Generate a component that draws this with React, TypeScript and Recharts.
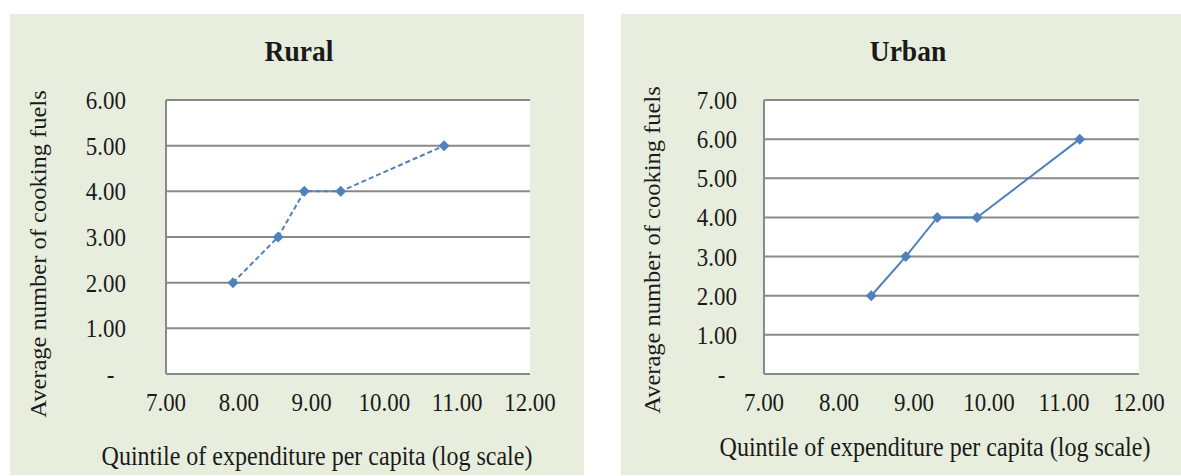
import React from "react";
import { CartesianGrid, Line, LineChart, XAxis, YAxis } from "recharts";

// log expenditure per capita by quintile and average number of cooking fuels
const ruralX = [7.92, 8.54, 8.9, 9.4, 10.82];
const ruralY = [2, 3, 4, 4, 5];
const urbanX = [8.43, 8.89, 9.31, 9.84, 11.21];
const urbanY = [2, 3, 4, 4, 6];

const xTicks = [7, 8, 9, 10, 11, 12];
const ruralTicks = [0, 1, 2, 3, 4, 5, 6];
const urbanTicks = [0, 1, 2, 3, 4, 5, 6, 7];

const FONT = '"Liberation Serif", "Times New Roman", serif';
const BLUE = "#4F81BD";
const GRID = "#898989";
const TEXT = "#1a1a1a";
const PANEL_BG = "#e8eedd";
// the source picture is a bit narrower than it is tall, so text gets squeezed sideways
const SQUEEZE = 0.9;

function Diamond(props: any) {
  const { cx, cy } = props;
  if (cx == null || cy == null) return null;
  const r = 5.5;
  return (
    <path
      key={`d-${cx}-${cy}`}
      d={`M${cx},${cy - r}L${cx + r},${cy}L${cx},${cy + r}L${cx - r},${cy}Z`}
      fill={BLUE}
    />
  );
}

function YTick(props: any) {
  const { x, y, payload } = props;
  const zero = payload.value === 0;
  return (
    <g transform={`translate(${x},${y}) scale(${SQUEEZE},1)`}>
      <text
        x={zero ? -13 : 0}
        y={0}
        dy="0.35em"
        textAnchor="end"
        fontFamily={FONT}
        fontSize={25.5}
        fill={TEXT}
      >
        {zero ? "-" : payload.value.toFixed(2)}
      </text>
    </g>
  );
}

function XTick(props: any) {
  const { x, y, payload } = props;
  return (
    <g transform={`translate(${x},${y}) scale(${SQUEEZE},1)`}>
      <text x={0} y={0} dy="0.71em" textAnchor="middle" fontFamily={FONT} fontSize={25.5} fill={TEXT}>
        {payload.value.toFixed(2)}
      </text>
    </g>
  );
}

type PanelProps = {
  title: string;
  titleX: number;
  xs: number[];
  ys: number[];
  yTicks: number[];
  dashed?: boolean;
  left: number;
  width: number;
  plotLeft: number;
  plotRight: number;
  yTickGap: number;
  yLabelX: number;
  yLabelY: number;
  xLabelX: number;
  xLabelY: number;
};

function Panel(p: PanelProps) {
  const data = p.xs.map((x, i) => ({ x, y: p.ys[i] }));
  const top = 14;
  const height = 461;
  const yAxisWidth = 70;
  const xAxisHeight = 50;
  const plotTop = 100;
  const plotBottom = 374;
  const margin = {
    top: plotTop - top,
    right: p.left + p.width - p.plotRight,
    bottom: top + height - plotBottom - xAxisHeight,
    left: p.plotLeft - p.left - yAxisWidth,
  };
  // page coords -> panel coords
  const px = (v: number) => v - p.left;
  const py = (v: number) => v - top;
  return (
    <div
      style={{
        position: "absolute",
        left: p.left,
        top,
        width: p.width,
        height,
        background: PANEL_BG,
      }}
    >
      <div style={{ position: "absolute", left: 0, top: 0 }}>
        <LineChart width={p.width} height={height} data={data} margin={margin}>
          <CartesianGrid
            vertical={false}
            stroke={GRID}
            strokeWidth={2}
            fill="#ffffff"
            fillOpacity={1}
          />
          <XAxis
            type="number"
            dataKey="x"
            domain={[7, 12]}
            ticks={xTicks}
            height={xAxisHeight}
            tickLine={false}
            tickMargin={13}
            axisLine={{ stroke: GRID, strokeWidth: 2 }}
            tick={<XTick />}
            interval={0}
          />
          <YAxis
            type="number"
            domain={[0, p.yTicks[p.yTicks.length - 1]]}
            ticks={p.yTicks}
            width={yAxisWidth}
            tickLine={false}
            tickMargin={p.yTickGap - 6}
            axisLine={{ stroke: GRID, strokeWidth: 2 }}
            tick={<YTick />}
            interval={0}
          />
          <Line
            type="linear"
            dataKey="y"
            stroke={BLUE}
            strokeWidth={2}
            strokeDasharray={p.dashed ? "5 3" : undefined}
            dot={<Diamond />}
            activeDot={false}
            isAnimationActive={false}
          />
        </LineChart>
      </div>
      <svg
        width={p.width}
        height={height}
        style={{ position: "absolute", left: 0, top: 0, pointerEvents: "none" }}
        fontFamily={FONT}
        fill={TEXT}
      >
        <text
          transform={`translate(${px(p.titleX)},${py(61)}) scale(0.95,1)`}
          textAnchor="middle"
          fontSize={29}
          fontWeight="bold"
        >
          {p.title}
        </text>
        <text
          transform={`translate(${px(p.yLabelX)},${py(p.yLabelY)}) rotate(-90) scale(1,${SQUEEZE})`}
          textAnchor="middle"
          dy="0.23em"
          fontSize={24.5}
        >
          Average number of cooking fuels
        </text>
        <text
          transform={`translate(${px(p.xLabelX)},${py(p.xLabelY)}) scale(0.89,1)`}
          textAnchor="middle"
          fontSize={27}
        >
          Quintile of expenditure per capita (log scale)
        </text>
      </svg>
    </div>
  );
}

export default function App() {
  return (
    <div style={{ position: "absolute", left: 0, top: 0, width: 1181, height: 476, background: "#fff" }}>
      <Panel
        title="Rural"
        titleX={299}
        xs={ruralX}
        ys={ruralY}
        yTicks={ruralTicks}
        dashed
        left={10}
        width={574}
        plotLeft={166}
        plotRight={530}
        yTickGap={40}
        yLabelX={41}
        yLabelY={254}
        xLabelX={317}
        xLabelY={465}
      />
      <Panel
        title="Urban"
        titleX={908}
        xs={urbanX}
        ys={urbanY}
        yTicks={urbanTicks}
        left={621}
        width={560}
        plotLeft={764}
        plotRight={1139}
        yTickGap={27}
        yLabelX={655}
        yLabelY={250}
        xLabelX={935}
        xLabelY={456}
      />
    </div>
  );
}
